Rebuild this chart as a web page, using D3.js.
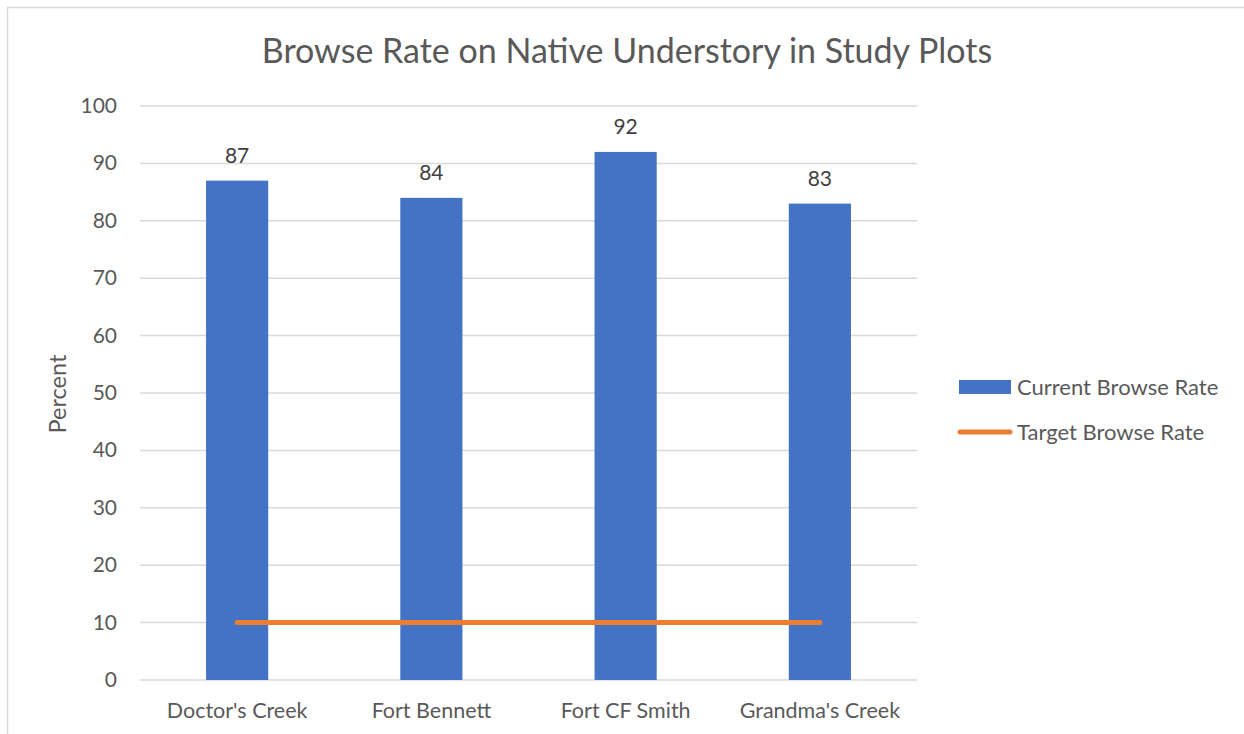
<!DOCTYPE html>
<html>
<head>
<meta charset="utf-8">
<script src="https://cdn.jsdelivr.net/npm/d3@7"></script>
<style>
  body { margin: 0; background: #fff; }
  text { font-family: Lato, "Open Sans", sans-serif; fill: #595959; }
</style>
</head>
<body>
<div class="chart"></div>
<script>
var sites = ["Doctor's Creek", "Fort Bennett", "Fort CF Smith", "Grandma's Creek"];
var currentRate = [87, 84, 92, 83];
var targetRate = [10, 10, 10, 10];
var yTicks = [0, 10, 20, 30, 40, 50, 60, 70, 80, 90, 100];

var w = 1244;
var h = 734;

var svg = d3.select(".chart")
    .append("svg")
    .attr("width", w)
    .attr("height", h)
    .attr("style", "display:block;");

// chart border (extends off the picture to the right and bottom)
svg.append("rect")
    .attr("x", 7.5).attr("y", 7.5)
    .attr("width", 1260).attr("height", 760)
    .attr("fill", "none")
    .attr("stroke", "#d9d9d9")
    .attr("stroke-width", 1.5);

var x = d3.scaleBand().domain(sites).range([140, 917]).paddingInner(0.68).paddingOuter(0.34);
var y = d3.scaleLinear().domain([0, 100]).range([680, 106]);

// gridlines
svg.append("g").selectAll("line")
    .data(yTicks)
    .enter().append("line")
    .attr("x1", 140).attr("x2", 917)
    .attr("y1", function (d) { return y(d); })
    .attr("y2", function (d) { return y(d); })
    .attr("stroke", "#d9d9d9")
    .attr("stroke-width", 1.5);

// y tick labels
svg.append("g").selectAll("text")
    .data(yTicks)
    .enter().append("text")
    .text(function (d) { return d; })
    .attr("x", 117)
    .attr("y", function (d) { return y(d) + 7; })
    .attr("text-anchor", "end")
    .attr("font-size", 21);

// bars
svg.append("g").selectAll("rect")
    .data(currentRate)
    .enter().append("rect")
    .attr("x", function (d, i) { return x(sites[i]); })
    .attr("width", x.bandwidth())
    .attr("y", function (d) { return y(d); })
    .attr("height", function (d) { return y(0) - y(d); })
    .attr("fill", "#4472c4");

// data labels
svg.append("g").selectAll("text")
    .data(currentRate)
    .enter().append("text")
    .text(function (d) { return d; })
    .attr("x", function (d, i) { return x(sites[i]) + x.bandwidth() / 2; })
    .attr("y", function (d) { return y(d) - 18; })
    .attr("text-anchor", "middle")
    .attr("font-size", 21)
    .style("fill", "#404040");

// target line
var line = d3.line()
    .x(function (d, i) { return x(sites[i]) + x.bandwidth() / 2; })
    .y(function (d) { return y(d); });

svg.append("path")
    .datum(targetRate)
    .attr("d", line)
    .attr("fill", "none")
    .attr("stroke", "#ed7d31")
    .attr("stroke-width", 5)
    .attr("stroke-linecap", "round");

// category labels
svg.append("g").selectAll("text")
    .data(sites)
    .enter().append("text")
    .text(function (d) { return d; })
    .attr("x", function (d) { return x(d) + x.bandwidth() / 2; })
    .attr("y", 718)
    .attr("text-anchor", "middle")
    .attr("font-size", 21.5);

// title
svg.append("text")
    .text("Browse Rate on Native Understory in Study Plots")
    .attr("x", 627)
    .attr("y", 63)
    .attr("text-anchor", "middle")
    .attr("font-size", 34);

// y axis title
svg.append("text")
    .text("Percent")
    .attr("transform", "translate(66,394) rotate(-90)")
    .attr("text-anchor", "middle")
    .attr("font-size", 23.5);

// legend
var legend = svg.append("g");

legend.append("rect")
    .attr("x", 959).attr("y", 380)
    .attr("width", 52).attr("height", 14)
    .attr("fill", "#4472c4");

legend.append("text")
    .text("Current Browse Rate")
    .attr("x", 1017).attr("y", 395)
    .attr("font-size", 22);

legend.append("line")
    .attr("x1", 960).attr("x2", 1010)
    .attr("y1", 432).attr("y2", 432)
    .attr("stroke", "#ed7d31")
    .attr("stroke-width", 5)
    .attr("stroke-linecap", "round");

legend.append("text")
    .text("Target Browse Rate")
    .attr("x", 1017).attr("y", 440)
    .attr("font-size", 22);
</script>
</body>
</html>
